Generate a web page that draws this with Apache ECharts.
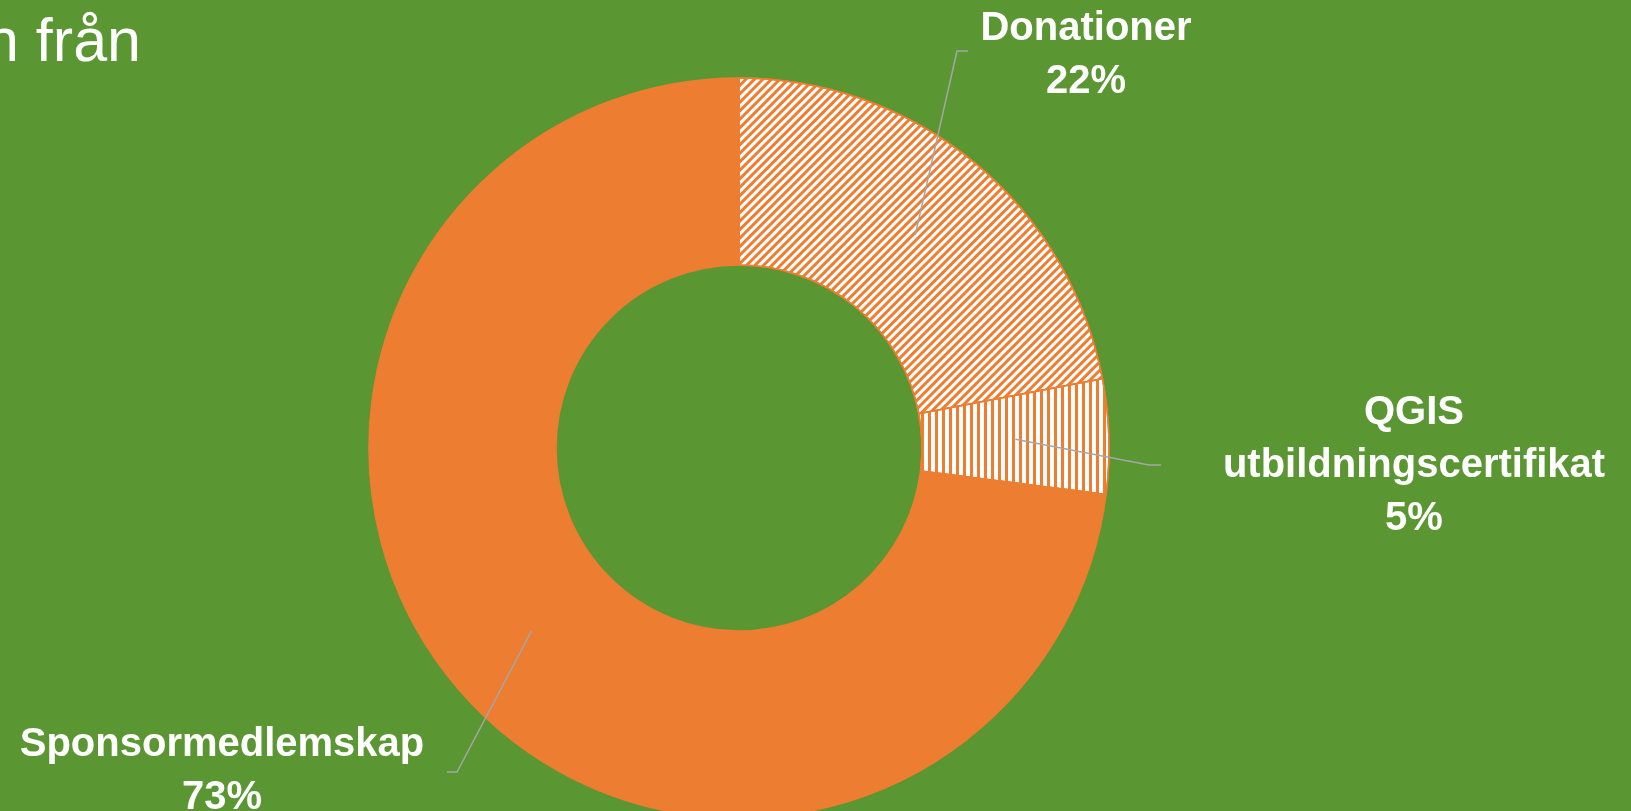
<!DOCTYPE html>
<html>
<head>
<meta charset="utf-8">
<script src="https://cdn.jsdelivr.net/npm/echarts@6/dist/echarts.min.js"></script>
<style>
html,body{margin:0;padding:0;background:#5A9632;overflow:hidden;}
#c{width:1631px;height:811px;}
</style>
</head>
<body>
<div id="c"></div>
<script>
// ---- data ----
const categories = ['Donationer', 'QGIS utbildningscertifikat', 'Sponsormedlemskap'];
const shares = [22, 5, 73];
const titleText = 'n från';

// ---- layout / style (not data) ----
const BG = '#5A9632';
const ORANGE = '#ED7D31';
const CENTER = [739, 448];
const RADIUS = [183, 370];
const labelAnchors = [[1086, 55], [1414, 466], [222, 771]];
const labelElbows = [
  [[957, 51], [968, 51]],
  [[1149, 465], [1161, 465]],
  [[457, 772], [447, 772]]
];
const decals = [
  { symbol: 'rect', symbolSize: 1, dashArrayX: [1, 0], dashArrayY: [3, 3], rotation: -Math.PI / 4, color: ORANGE },
  { symbol: 'rect', symbolSize: 1, dashArrayX: [1, 0], dashArrayY: [3, 4], rotation: Math.PI / 2, color: ORANGE },
  null
];
const fills = ['#FFFFFF', '#FFFFFF', ORANGE];

const total = shares.reduce((a, b) => a + b, 0);
const midAngles = [];
let acc = 0;
shares.forEach(v => { midAngles.push((acc + v / 2) / total * 2 * Math.PI); acc += v; });
const midR = (RADIUS[0] + RADIUS[1]) / 2;

const commonPie = {
  type: 'pie',
  center: CENTER,
  radius: RADIUS,
  startAngle: 90,
  clockwise: true,
  avoidLabelOverlap: false,
  emphasis: { disabled: true },
  silent: true
};

const chart = echarts.init(document.getElementById('c'), null, { renderer: 'canvas' });
chart.setOption({
  backgroundColor: BG,
  animation: false,
  title: {
    text: titleText,
    left: -15,
    top: 14,
    padding: 0,
    textStyle: { color: '#FFFFFF', fontSize: 61, fontWeight: 'normal', fontFamily: 'Liberation Sans' }
  },
  series: [
    Object.assign({}, commonPie, {
      z: 2,
      itemStyle: { borderColor: ORANGE, borderWidth: 1.5 },
      label: { show: false },
      labelLine: { show: false },
      data: categories.map((name, i) => ({
        name: name,
        value: shares[i],
        itemStyle: decals[i] ? { color: fills[i], decal: decals[i] } : { color: fills[i] }
      }))
    }),
    Object.assign({}, commonPie, {
      z: 5,
      itemStyle: { color: 'rgba(0,0,0,0)', borderWidth: 0 },
      label: {
        show: true,
        position: 'outside',
        color: '#FFFFFF',
        fontFamily: 'Liberation Sans',
        fontWeight: 'bold',
        fontSize: 40,
        lineHeight: 53,
        align: 'center',
        formatter: p => p.name.replace(' ', '\n') + '\n' + Math.round(p.percent) + '%'
      },
      labelLine: { show: true, lineStyle: { color: '#A6A6A6', width: 1.5 } },
      labelLayout: p => {
        const i = p.dataIndex;
        const a = midAngles[i];
        const start = [CENTER[0] + midR * Math.sin(a), CENTER[1] - midR * Math.cos(a)];
        return {
          x: labelAnchors[i][0],
          y: labelAnchors[i][1],
          align: 'center',
          verticalAlign: 'middle',
          labelLinePoints: [start, labelElbows[i][0], labelElbows[i][1]]
        };
      },
      data: categories.map((name, i) => ({ name: name, value: shares[i] }))
    })
  ]
});
</script>
</body>
</html>
